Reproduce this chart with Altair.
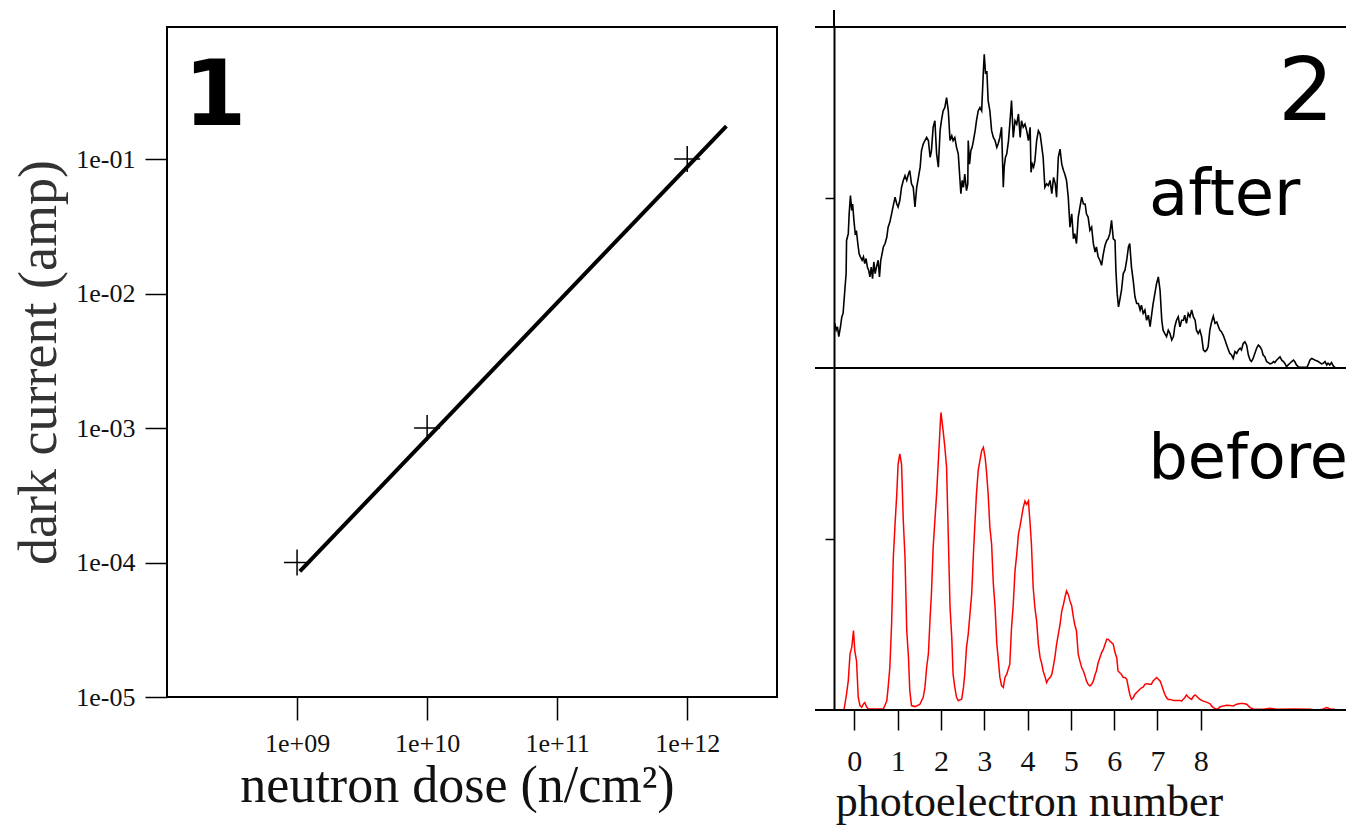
import altair as alt
import pandas as pd

# ---------------- panel 1 : dark current vs neutron dose ----------------
dose = [1e9, 1e10, 1e12]
dark_current = [1e-4, 1e-3, 1e-1]
fit_dose = [1.05e9, 2.0e12]
fit_current = [8.6e-5, 0.176]
dose_ticks = [1e9, 1e10, 1e11, 1e12]
dose_tick_labels = ["1e+09", "1e+10", "1e+11", "1e+12"]
current_ticks = [1e-5, 1e-4, 1e-3, 1e-2, 1e-1]
current_tick_labels = ["1e-05", "1e-04", "1e-03", "1e-02", "1e-01"]

# ---------------- panel 2 : photoelectron spectra ----------------
pe_ticks = [0, 1, 2, 3, 4, 5, 6, 7, 8]

after_x = [
    -0.45, -0.42, -0.39, -0.36, -0.32, -0.29, -0.26, -0.22, -0.19, -0.18, -0.14, -0.12, -0.09, -0.06, -0.04, -0.01,
    0.02, 0.05, 0.08, 0.11, 0.14, 0.18, 0.21, 0.24, 0.27, 0.30, 0.33, 0.36, 0.39, 0.42, 0.45, 0.48, 0.51, 0.55,
    0.58, 0.61, 0.64, 0.67, 0.71, 0.75, 0.78, 0.82, 0.86, 0.90, 0.94, 0.98, 1.01, 1.05, 1.09, 1.13, 1.17, 1.21,
    1.25, 1.28, 1.32, 1.36, 1.40, 1.44, 1.48, 1.52, 1.55, 1.59, 1.63, 1.67, 1.71, 1.75, 1.78, 1.82, 1.86, 1.90,
    1.94, 1.98, 2.01, 2.05, 2.09, 2.13, 2.17, 2.21, 2.25, 2.28,
    2.32, 2.36, 2.40, 2.44, 2.46, 2.49, 2.52, 2.55, 2.59, 2.62, 2.63, 2.66, 2.69, 2.72, 2.75, 2.79, 2.82, 2.86,
    2.90, 2.94, 2.98, 3.00, 3.03, 3.06, 3.09, 3.13, 3.17, 3.21, 3.25, 3.29, 3.32, 3.36, 3.40, 3.44, 3.46, 3.49,
    3.52, 3.56, 3.59, 3.63, 3.67, 3.71, 3.75, 3.79, 3.83, 3.86, 3.90, 3.94, 3.98, 4.02, 4.06, 4.08, 4.11, 4.14,
    4.17, 4.21, 4.25, 4.29, 4.32, 4.36, 4.40, 4.44, 4.48, 4.52, 4.56, 4.60, 4.64, 4.67, 4.71, 4.75, 4.79, 4.83,
    4.86, 4.90, 4.94, 4.98, 5.02, 5.06, 5.09, 5.13, 5.17, 5.21, 5.25, 5.29,
    5.33, 5.36, 5.40, 5.44, 5.48, 5.52, 5.56, 5.59, 5.63, 5.67, 5.71, 5.75, 5.79, 5.83, 5.86, 5.90, 5.94, 5.98,
    6.02, 6.04, 6.07, 6.10, 6.13, 6.17, 6.21, 6.25, 6.29, 6.33, 6.36, 6.40, 6.44, 6.48, 6.52, 6.56, 6.60, 6.63,
    6.67, 6.71, 6.75, 6.79, 6.83, 6.87, 6.90, 6.94, 6.98, 7.02, 7.06, 7.10, 7.13, 7.17, 7.21, 7.25, 7.29, 7.33,
    7.37, 7.40, 7.44, 7.48, 7.52, 7.56, 7.60, 7.63, 7.67, 7.71, 7.75, 7.79, 7.83, 7.87, 7.90, 7.94,
    7.98, 8.02, 8.06, 8.10, 8.14, 8.17, 8.21, 8.25, 8.29, 8.33, 8.37, 8.41, 8.44, 8.48, 8.52, 8.56, 8.60, 8.64,
    8.67, 8.71, 8.75, 8.79, 8.83, 8.87, 8.91, 8.94, 8.98, 9.02, 9.06, 9.10, 9.14, 9.17, 9.21, 9.25, 9.29, 9.33,
    9.37, 9.41, 9.44, 9.48, 9.52, 9.56, 9.60, 9.64, 9.68, 9.71, 9.75, 9.79, 9.83, 9.87, 9.91, 9.94, 9.98, 10.02,
    10.06, 10.10, 10.14, 10.17, 10.21, 10.25, 10.29, 10.45, 10.48, 10.52, 10.56, 10.60, 10.64, 10.68, 10.71,
    10.75, 10.79, 10.83, 10.87, 10.91, 10.94, 10.98, 11.02, 11.06, 11.10,
]
after_y = [
    13.1, 11.1, 12.1, 9.2, 12.1, 15.0, 16.0, 22.8, 27.7, 37.4, 39.4, 45.2, 50.6, 46.2, 48.1, 43.3,
    39.4, 39.9, 36.5, 33.5, 32.6, 31.6, 32.6, 30.6, 32.1, 29.6, 28.7, 26.7, 29.6, 26.2, 31.1, 27.7, 29.6, 31.6,
    26.7, 31.6, 33.5, 35.5, 36.5, 38.4, 41.3, 42.8, 45.2, 47.7, 50.1, 48.1, 47.2, 49.1, 53.0, 55.0, 56.4, 55.0,
    56.9, 57.9, 54.0, 53.0, 47.2, 53.0, 55.9, 58.9, 63.7, 65.7, 66.7, 67.6, 66.7, 61.8, 63.7, 70.6, 72.5, 62.8,
    58.9, 69.6, 72.5, 75.4, 76.4, 79.3, 75.4, 66.7, 68.1, 66.7,
    67.6, 64.7, 62.8, 55.0, 51.1, 55.0, 53.0, 56.9, 52.0, 54.0, 66.7, 59.8, 63.7, 64.7, 66.7, 69.6, 72.5, 75.4,
    76.4, 75.4, 87.1, 92.0, 86.2, 87.1, 78.4, 75.4, 69.6, 67.6, 66.7, 64.7, 65.7, 67.6, 70.6, 53.0, 58.9, 61.8,
    62.8, 66.7, 71.5, 78.4, 67.6, 72.5, 71.5, 74.5, 67.6, 72.5, 70.6, 71.5, 69.6, 66.7, 70.6, 57.4, 59.8, 58.9,
    60.8, 66.7, 69.6, 68.6, 65.7, 61.8, 53.0, 54.0, 53.5, 55.0, 51.1, 55.9, 54.0, 50.1, 61.8, 64.2, 59.8, 57.9,
    56.9, 55.0, 50.1, 41.3, 45.2, 37.9, 39.4, 36.5, 44.2, 47.2, 50.1, 48.1,
    48.1, 45.2, 44.2, 40.4, 41.3, 36.5, 34.0, 35.5, 32.6, 31.6, 30.1, 33.5, 36.0, 37.4, 37.9, 39.4, 43.3, 37.9,
    37.4, 28.7, 21.8, 17.9, 19.9, 22.8, 27.7, 28.7, 31.6, 35.5, 36.5, 29.6, 25.7, 20.9, 18.9, 18.9, 17.0, 18.4,
    16.0, 17.0, 14.0, 15.5, 12.1, 16.0, 18.9, 21.8, 24.8, 26.7, 22.8, 14.0, 11.1, 10.1, 9.2, 11.1, 10.1, 8.2,
    9.2, 12.1, 14.0, 15.0, 12.1, 14.0, 14.0, 15.5, 13.1, 16.0, 15.0, 17.0, 15.0, 14.0, 11.1, 10.1,
    11.1, 9.2, 5.3, 4.8, 5.3, 6.2, 11.1, 13.5, 15.2, 13.1, 13.5, 12.1, 11.1, 10.6, 9.6, 8.2, 6.7, 5.3,
    4.3, 3.8, 2.8, 4.8, 4.3, 5.3, 5.8, 5.3, 7.2, 7.7, 6.7, 3.8, 2.3, 1.9, 2.8, 4.3, 5.8, 6.7,
    6.2, 5.3, 3.8, 3.3, 1.9, 1.6, 1.2, 1.4, 1.9, 1.6, 2.3, 2.8, 3.3, 2.3, 1.9, 1.4, 0.4, 0.9,
    1.4, 1.9, 2.3, 1.9, 0.9, 0.4, 0.2, 0.2, 0.9, 2.3, 2.8, 2.6, 2.3, 2.1, 1.9,
    1.6, 1.2, 1.4, 1.9, 0.9, 1.4, 0.9, 1.6, 0.6, 0.2,
]

before_x = [
    -0.24, -0.18, -0.14, -0.10, -0.06, -0.02, 0.01, 0.05, 0.09, 0.13, 0.17, 0.21, 0.24, 0.28, 0.32, 0.67,
    0.75, 0.78, 0.82, 0.86, 0.90, 0.94, 0.98, 1.01, 1.05, 1.09, 1.13, 1.17, 1.21, 1.25, 1.28, 1.32, 1.40,
    1.51, 1.59, 1.63, 1.67, 1.71, 1.75, 1.78, 1.82, 1.86, 1.90, 1.94, 1.98, 2.00, 2.05, 2.09, 2.13, 2.17,
    2.21, 2.25, 2.28, 2.32, 2.36, 2.40, 2.48, 2.52, 2.55, 2.59, 2.63, 2.67, 2.71, 2.75, 2.78, 2.82, 2.86,
    2.90, 2.94, 2.98, 3.02, 3.05, 3.09, 3.13, 3.17, 3.21, 3.25, 3.29, 3.32, 3.36, 3.40, 3.44, 3.48, 3.52,
    3.59, 3.63, 3.67, 3.71, 3.75, 3.79, 3.82, 3.86, 3.90, 3.94, 3.98, 4.02, 4.06, 4.09, 4.13, 4.17, 4.21,
    4.25, 4.29, 4.33, 4.36, 4.40, 4.44, 4.48, 4.52, 4.56, 4.59, 4.63, 4.67, 4.71, 4.75, 4.79, 4.83, 4.86,
    4.90, 4.94, 4.98, 5.02, 5.06, 5.09, 5.13, 5.17, 5.21, 5.25, 5.29, 5.33, 5.36, 5.40, 5.44, 5.48, 5.52,
    5.56, 5.59, 5.63, 5.67, 5.71, 5.75, 5.79, 5.83, 5.86, 5.90, 5.94, 5.98, 6.02, 6.06, 6.09, 6.13, 6.17,
    6.21, 6.25, 6.29, 6.33, 6.36, 6.40, 6.44, 6.48, 6.52, 6.56, 6.59, 6.63, 6.67, 6.71, 6.75, 6.83, 6.86,
    6.90, 6.94, 6.98, 7.02, 7.06, 7.09, 7.13, 7.17, 7.21, 7.25, 7.29, 7.37, 7.44, 7.52, 7.56, 7.59, 7.63,
    7.67, 7.71, 7.75, 7.79, 7.83, 7.87, 7.90, 7.94, 7.98, 8.06, 8.13, 8.21, 8.25, 8.29, 8.37, 8.41, 8.44,
    8.52, 8.60, 8.68, 8.75, 8.83, 8.91, 8.98, 9.06, 9.10, 9.14, 9.21, 9.44, 9.60, 9.67, 9.75, 10.14, 10.52,
    10.60, 10.75, 10.83, 10.91, 10.95, 10.99, 11.10,
]
before_y = [
    0.0, 4.7, 8.6, 16.4, 18.3, 23.2, 17.3, 14.4, 3.7, 1.3, 0.8, 1.8, 2.2, 1.0, 0.3, 0.3,
    2.7, 6.6, 12.5, 25.1, 44.6, 54.4, 63.2, 71.9, 74.9, 71.9, 55.4, 44.6, 23.2, 15.4, 5.7, 1.3, 1.0,
    1.6, 3.7, 6.6, 12.5, 16.4, 27.1, 33.9, 47.6, 55.4, 63.2, 72.9, 82.7, 87.0, 81.7, 76.8, 71.0, 50.5,
    30.0, 21.2, 10.5, 6.6, 3.7, 2.7, 3.2, 6.6, 10.5, 18.3, 22.2, 28.1, 33.9, 45.6, 53.4, 63.2, 70.0,
    72.9, 75.8, 76.8, 73.9, 70.0, 63.2, 53.4, 48.5, 36.8, 30.0, 19.3, 15.4, 9.6, 7.1, 6.6, 9.6, 10.5,
    13.4, 24.1, 30.9, 40.6, 45.5, 51.4, 53.3, 56.2, 59.2, 61.1, 60.1, 61.1, 54.3, 48.4, 35.8, 29.9, 26.0,
    19.2, 15.3, 13.4, 11.4, 9.9, 8.0, 9.0, 9.5, 10.4, 12.4, 15.3, 19.2, 22.1, 25.0, 28.9, 30.9, 32.8,
    34.8, 33.8, 31.9, 30.4, 27.0, 25.0, 23.1, 16.3, 14.3, 12.4, 11.4, 9.9, 8.5, 7.5, 7.0, 7.5, 8.5,
    10.4, 11.4, 13.8, 15.3, 16.8, 17.7, 19.2, 20.7, 20.7, 20.2, 19.7, 19.2, 16.8, 15.3, 11.4, 10.9, 10.4,
    9.5, 9.5, 9.0, 6.5, 4.6, 3.1, 3.6, 4.6, 5.1, 5.6, 6.0, 6.5, 6.7, 7.5, 7.7, 7.5, 7.5,
    8.5, 9.0, 9.5, 9.0, 8.5, 7.5, 6.0, 4.6, 3.6, 3.1, 3.1, 2.8, 2.8, 2.8, 2.6, 3.1, 3.6,
    4.4, 3.8, 3.4, 3.1, 4.0, 4.4, 4.1, 3.6, 3.1, 2.6, 2.3, 1.9, 1.2, 0.7, 0.2, 0.5, 0.9,
    1.2, 1.4, 1.3, 1.2, 1.7, 1.9, 1.9, 1.7, 1.2, 0.7, 0.3, 0.2, 0.5, 0.4, 0.2, 0.3, 0.2,
    0.1, 0.1, 0.3, 0.7, 0.5, 0.3, 0.2,
]

panel_labels = ["1", "2"]
state_labels = ["after", "before"]

SERIF = "Liberation Serif"
HAND = "DejaVu Sans"


def label_expr(values, labels):
    expr = "'" + labels[-1] + "'"
    for v, lab in reversed(list(zip(values[:-1], labels[:-1]))):
        expr = "datum.value < %g ? '%s' : (%s)" % (v * 3, lab, expr)
    return expr


# ---------------- left chart ----------------
LW, LH = 610, 670
xs = alt.Scale(type="log", domain=[1e8, 4.9e12], nice=False)
ys = alt.Scale(type="log", domain=[1e-5, 0.96], nice=False)

x_axis = alt.Axis(
    values=dose_ticks, labelExpr=label_expr(dose_ticks, dose_tick_labels),
    title="neutron dose (n/cm²)", grid=False, domain=False,
    tickSize=23, tickWidth=1.5, tickColor="black",
    labelFont=SERIF, labelFontSize=26, labelColor="#111", labelPadding=10,
    labelFlush=False, labelOverlap=False,
    titleFont=SERIF, titleFontSize=52, titleFontWeight="normal", titleColor="#111",
    titlePadding=4, titleX=290,
)
y_axis = alt.Axis(
    values=current_ticks, labelExpr=label_expr(current_ticks, current_tick_labels),
    title="dark current (amp)", grid=False, domain=False,
    tickSize=22, tickWidth=1.5, tickColor="black",
    labelFont=SERIF, labelFontSize=26, labelColor="#111", labelPadding=10,
    labelFlush=False, labelOverlap=False,
    titleFont=SERIF, titleFontSize=54, titleFontWeight="normal", titleColor="#333",
    titlePadding=9,
)

df_pts = pd.DataFrame({"dose": dose, "current": dark_current})
df_fit = pd.DataFrame({"dose": fit_dose, "current": fit_current})

fit = alt.Chart(df_fit).mark_line(color="black", strokeWidth=4).encode(
    x=alt.X("dose:Q", scale=xs, axis=x_axis),
    y=alt.Y("current:Q", scale=ys, axis=y_axis),
)
pts = alt.Chart(df_pts).mark_point(
    shape="M-1,0L1,0M0,-1L0,1", size=676, filled=False, color="black", strokeWidth=1.5, opacity=1
).encode(x="dose:Q", y="current:Q")
lbl1 = alt.Chart(pd.DataFrame({"t": [panel_labels[0]]})).mark_text(
    font=HAND, fontSize=90, fontWeight="bold", align="center", baseline="alphabetic", color="black"
).encode(text="t:N", x=alt.value(48), y=alt.value(98))

left = alt.layer(fit, pts, lbl1).properties(
    width=LW, height=LH, view=alt.ViewBackground(stroke="black", strokeWidth=2)
)

# ---------------- right charts ----------------
RW, AH, BH = 512, 341, 342
pe_scale = alt.Scale(domain=[-0.47, -0.47 + RW / 43.3], nice=False, zero=False)
sig_scale = alt.Scale(domain=[0, 100], nice=False, zero=False)
sig_axis = alt.Axis(
    values=[50], labels=False, grid=False, tickSize=9, tickWidth=1.5, tickColor="black",
    domainColor="black", domainWidth=2,
)
one = pd.DataFrame({"k": [0]})


def hrule(ypix):
    return alt.Chart(one).mark_rule(color="black", strokeWidth=2).encode(
        x=alt.value(-19), x2=alt.value(RW), y=alt.value(ypix)
    )


after_df = pd.DataFrame({"pe": after_x, "n": after_y})
after_line = alt.Chart(after_df).mark_line(color="black", strokeWidth=1.6).encode(
    x=alt.X("pe:Q", scale=pe_scale, axis=None),
    y=alt.Y("n:Q", scale=sig_scale, axis=sig_axis, title=None),
)
stub = alt.Chart(one).mark_rule(color="black", strokeWidth=2).encode(
    x=alt.value(0), y=alt.value(-17), y2=alt.value(0)
)
txt2 = alt.Chart(pd.DataFrame({"t": [panel_labels[1]]})).mark_text(
    font=HAND, fontSize=88, align="center", baseline="alphabetic", color="black"
).encode(text="t:N", x=alt.value(472), y=alt.value(93))
txt_after = alt.Chart(pd.DataFrame({"t": [state_labels[0]]})).mark_text(
    font=HAND, fontSize=64, align="left", baseline="alphabetic", color="black"
).encode(text="t:N", x=alt.value(315), y=alt.value(188))

after = alt.layer(after_line, hrule(0), hrule(AH), stub, txt2, txt_after).properties(
    width=RW, height=AH, view=alt.ViewBackground(stroke="transparent")
)

pe_axis = alt.Axis(
    values=pe_ticks, format="d", title="photoelectron number", grid=False, domain=False,
    tickSize=20, tickWidth=1.5, tickColor="black",
    labelFont=SERIF, labelFontSize=30, labelColor="#111", labelPadding=16, labelFlush=False,
    titleFont=SERIF, titleFontSize=44, titleFontWeight="normal", titleColor="#111",
    titlePadding=4, titleX=195,
)
before_df = pd.DataFrame({"pe": before_x, "n": before_y})
before_line = alt.Chart(before_df).mark_line(color="#ff0000", strokeWidth=1.5).encode(
    x=alt.X("pe:Q", scale=pe_scale, axis=pe_axis),
    y=alt.Y("n:Q", scale=sig_scale, axis=sig_axis, title=None),
)
txt_before = alt.Chart(pd.DataFrame({"t": [state_labels[1]]})).mark_text(
    font=HAND, fontSize=62, align="right", baseline="alphabetic", color="black"
).encode(text="t:N", x=alt.value(514), y=alt.value(110))

before = alt.layer(before_line, hrule(BH), txt_before).properties(
    width=RW, height=BH, view=alt.ViewBackground(stroke="transparent")
)

right = alt.vconcat(after, before, spacing=0, bounds="flush")

chart = alt.hconcat(left, right, spacing=57, bounds="flush").properties(
    padding={"left": 3, "top": 0, "right": 0, "bottom": 0}
).configure(background="white", font=SERIF)

chart.save("out.html", embed_options={"renderer": "svg", "actions": False})
